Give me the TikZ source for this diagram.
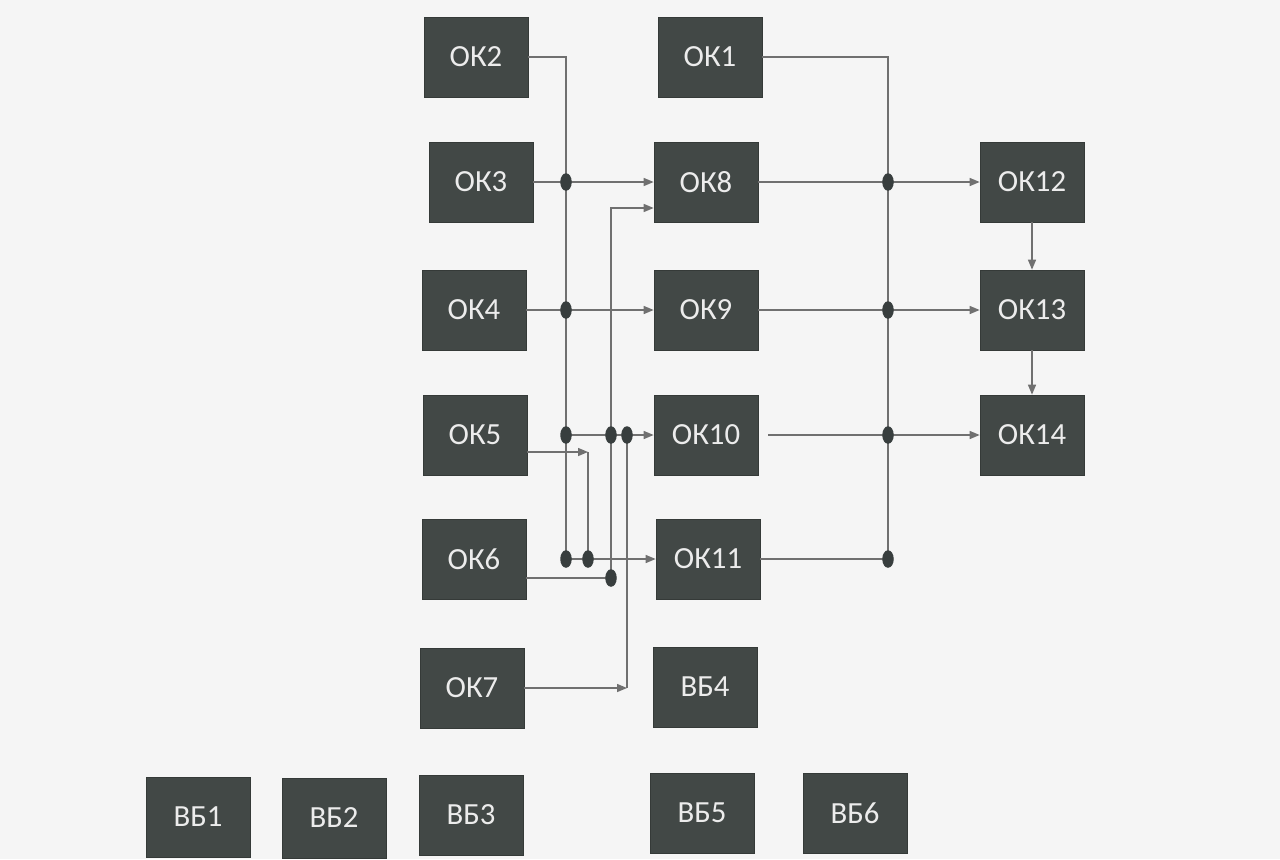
\documentclass[tikz,border=0pt]{standalone}
\usepackage{fontspec}
\setmainfont{Carlito}
\usetikzlibrary{arrows.meta,shapes.geometric}
\definecolor{boxgray}{RGB}{66,72,70}
\definecolor{boxtext}{RGB}{236,236,236}
\definecolor{linegray}{RGB}{112,112,112}
\definecolor{dotgray}{RGB}{56,62,62}
\definecolor{paper}{RGB}{245,245,245}

\begin{document}
\begin{tikzpicture}[x=0.02cm,y=-0.02cm,
  okbox/.style={fill=boxgray,draw=boxgray!80!black,text=boxtext,minimum width=2.08cm,minimum height=1.6cm,inner sep=0pt,font=\fontsize{17.5}{20}\selectfont},
  junction/.style={ellipse,fill=dotgray,minimum width=0.23cm,minimum height=0.35cm,inner sep=0pt},
  link/.style={draw=linegray,line width=0.8pt},
  flow/.style={link,-{Triangle[length=0.2cm,width=0.16cm]}}]
\fill[paper] (0,0) rectangle (1280,859);
\useasboundingbox (0,0) rectangle (1280,859);
% left column
\node[okbox] (ok2) at (476,57) {ОК2};
\node[okbox] (ok3) at (481,182) {ОК3};
\node[okbox] (ok4) at (474,310) {ОК4};
\node[okbox] (ok5) at (475,435) {ОК5};
\node[okbox] (ok6) at (474,559) {ОК6};
\node[okbox] (ok7) at (472,688) {ОК7};
% middle column
\node[okbox] (ok1) at (710,57) {ОК1};
\node[okbox] (ok8) at (706,182) {ОК8};
\node[okbox] (ok9) at (706,310) {ОК9};
\node[okbox] (ok10) at (706,435) {ОК10};
\node[okbox] (ok11) at (708,559) {ОК11};
\node[okbox] (vb4) at (705,687) {ВБ4};
% right column
\node[okbox] (ok12) at (1032,182) {ОК12};
\node[okbox] (ok13) at (1032,310) {ОК13};
\node[okbox] (ok14) at (1032,435) {ОК14};
% bottom row
\node[okbox] (vb1) at (198,817) {ВБ1};
\node[okbox] (vb2) at (334,818) {ВБ2};
\node[okbox] (vb3) at (471,815) {ВБ3};
\node[okbox] (vb5) at (702,813) {ВБ5};
\node[okbox] (vb6) at (855,813) {ВБ6};
% junction points
\coordinate (j3) at (566,182);
\coordinate (j4) at (566,310);
\coordinate (j5) at (566,435);
\coordinate (j6a) at (566,559);
\coordinate (j6b) at (588,559);
\coordinate (j6c) at (611,578);
\coordinate (j10b) at (611,435);
\coordinate (j10c) at (627,435);
\coordinate (c5) at (588,452);
\coordinate (c7) at (627,688);
\coordinate (r8) at (888,182);
\coordinate (r9) at (888,310);
\coordinate (r10) at (888,435);
\coordinate (r11) at (888,559);
% left bus
\draw[link] (ok2.east) -| (j6a);
\draw[flow] (ok3) -- (ok8);
\draw[flow] (ok4) -- (ok9);
\draw[flow] (j5) -- (ok10);
\draw[flow] (j6a) -- (ok11);
\draw[flow] (c5 -| ok5.east) -- (c5);
\draw[link] (c5) -- (j6b);
\draw[link] (j6c -| ok6.east) -- (j6c);
\draw[flow] (j6c) |- ([yshift=-0.52cm]ok8.west);
\draw[flow] (ok7) -- (c7);
\draw[link] (c7) -- (j10c);
% right bus
\draw[link] (ok1.east) -| (r11);
\draw[flow] (ok8) -- (ok12);
\draw[flow] (ok9) -- (ok13);
\draw[flow] ([xshift=0.2cm]ok10.east) -- (ok14);
\draw[link] (ok11) -- (r11);
\draw[flow] (ok12) -- (ok13);
\draw[flow] (ok13) -- (ok14);
% dots
\foreach \j in {j3,j4,j5,j6a,j6b,j6c,j10b,j10c,r8,r9,r10,r11}
  \node[junction] at (\j) {};
\end{tikzpicture}
\end{document}
